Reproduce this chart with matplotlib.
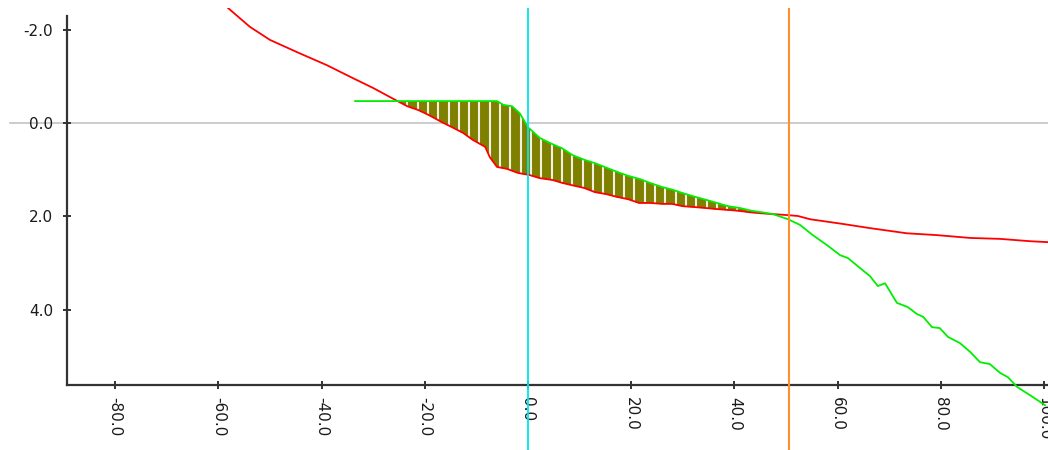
import numpy as np
import matplotlib
matplotlib.use('Agg')
import matplotlib.pyplot as plt

# ground profile (red) - offset, depth
red_x = [-58.1, -53.9, -50.0, -44.8, -39.0, -33.9, -30.0, -25.8, -23.4, -21.3, -19.2, -16.7,
         -14.7, -12.6, -10.7, -8.3, -7.4, -6.0, -4.1, -1.9, 0.2, 2.3, 4.8, 6.6, 8.5, 10.9,
         13.0, 15.1, 17.2, 19.4, 21.5, 23.6, 26.0, 27.9, 30.0, 32.4, 34.5, 36.4, 38.8, 40.9,
         43.0, 45.0, 47.5, 50.2, 52.3, 54.7, 61.0, 66.3, 73.4, 79.3, 85.7, 91.5, 97.3, 100.8]
red_y = [-2.46, -2.06, -1.78, -1.52, -1.24, -0.96, -0.75, -0.50, -0.36, -0.28, -0.17, -0.02,
         0.09, 0.21, 0.36, 0.51, 0.73, 0.94, 0.98, 1.07, 1.11, 1.18, 1.22, 1.28, 1.33, 1.39,
         1.48, 1.52, 1.58, 1.63, 1.71, 1.71, 1.73, 1.73, 1.78, 1.80, 1.82, 1.84, 1.86, 1.88,
         1.91, 1.93, 1.95, 1.97, 1.99, 2.06, 2.16, 2.25, 2.36, 2.40, 2.46, 2.48, 2.53, 2.55]

# design profile (green)
green_x = [-33.5, -6.0, -4.8, -3.1, -1.6, 0.0, 2.3, 4.7, 6.6, 8.7, 11.0, 13.0, 15.3, 17.4,
           19.4, 21.7, 23.6, 26.0, 28.1, 30.0, 32.4, 34.7, 36.6, 38.8, 41.1, 43.4, 45.3,
           47.5, 50.4, 52.7, 55.2, 57.9, 60.5, 62.0, 64.3, 66.3, 67.8, 69.2, 71.5, 73.6,
           75.4, 76.6, 78.3, 79.8, 81.4, 83.7, 85.7, 87.6, 89.5, 91.5, 93.0, 94.8, 97.9, 100.2]
green_y = [-0.47, -0.47, -0.39, -0.36, -0.21, 0.09, 0.32, 0.45, 0.54, 0.69, 0.79, 0.86, 0.96,
           1.05, 1.13, 1.20, 1.28, 1.37, 1.43, 1.50, 1.58, 1.65, 1.71, 1.78, 1.82, 1.88, 1.91,
           1.95, 2.06, 2.18, 2.40, 2.61, 2.83, 2.89, 3.10, 3.28, 3.49, 3.43, 3.85, 3.94, 4.09,
           4.15, 4.37, 4.39, 4.58, 4.71, 4.90, 5.12, 5.16, 5.35, 5.44, 5.65, 5.87, 6.04]

centre_x = 0.0
limit_x = 50.6

x_ticks = [-80, -60, -40, -20, 0, 20, 40, 60, 80, 100]
y_ticks = [-2, 0, 2, 4]

plt.rcParams['font.family'] = 'DejaVu Sans'
plt.rcParams['axes.unicode_minus'] = False

fig = plt.figure(figsize=(10.48, 4.5), dpi=100)
ax = fig.add_axes([67 / 1048, 0, 1 - 67 / 1048, 442 / 450])

ax.set_xlim(-89.34, 100.78)
ax.set_ylim(7.0, -2.463)

# horizontal zero line, reaches past the y axis
ax.plot([-100.4, 100.78], [0, 0], color='#c4c4c4', lw=1.2, zorder=1, clip_on=False)

# cut area between the two profiles
grid = np.linspace(-25.6, 47.5, 600)
r = np.interp(grid, red_x, red_y)
g = np.interp(grid, green_x, green_y)
ax.fill_between(grid, g, r, where=r > g, interpolate=True, color='#808000', lw=0, zorder=2)

hx = np.arange(-23.4, 46.0, 2.0)
hg = np.interp(hx, green_x, green_y)
hr = np.interp(hx, red_x, red_y)
ax.vlines(hx, hg, hr, color='#f2f2e4', lw=1.5, zorder=3)

ax.plot(red_x, red_y, color='#ff0000', lw=1.3, zorder=4)
ax.plot(green_x, green_y, color='#00ee00', lw=1.3, zorder=5)

ax.axvline(centre_x, color='#00e5ee', lw=1.3, zorder=6)
ax.axvline(limit_x, color='#ff9030', lw=1.5, zorder=7)

# axes look
for s in ['top', 'right']:
    ax.spines[s].set_visible(False)
ax.spines['bottom'].set_position(('data', 5.61))
ax.spines['left'].set_bounds(5.61, -2.29)
for s in ['bottom', 'left']:
    ax.spines[s].set_color('#333333')
    ax.spines[s].set_linewidth(1.6)

ax.set_xticks(x_ticks)
ax.set_xticklabels(['%.1f' % v for v in x_ticks], rotation=-90, va='top')
ax.set_yticks(y_ticks)
ax.set_yticklabels(['%.1f' % v for v in y_ticks])
ax.tick_params(direction='inout', length=6, width=1.4, color='#333333',
               labelsize=11, labelcolor='#1a1a1a')
ax.tick_params(axis='x', pad=5.5)
ax.tick_params(axis='y', pad=7)

fig.savefig('out.png', dpi=100)
